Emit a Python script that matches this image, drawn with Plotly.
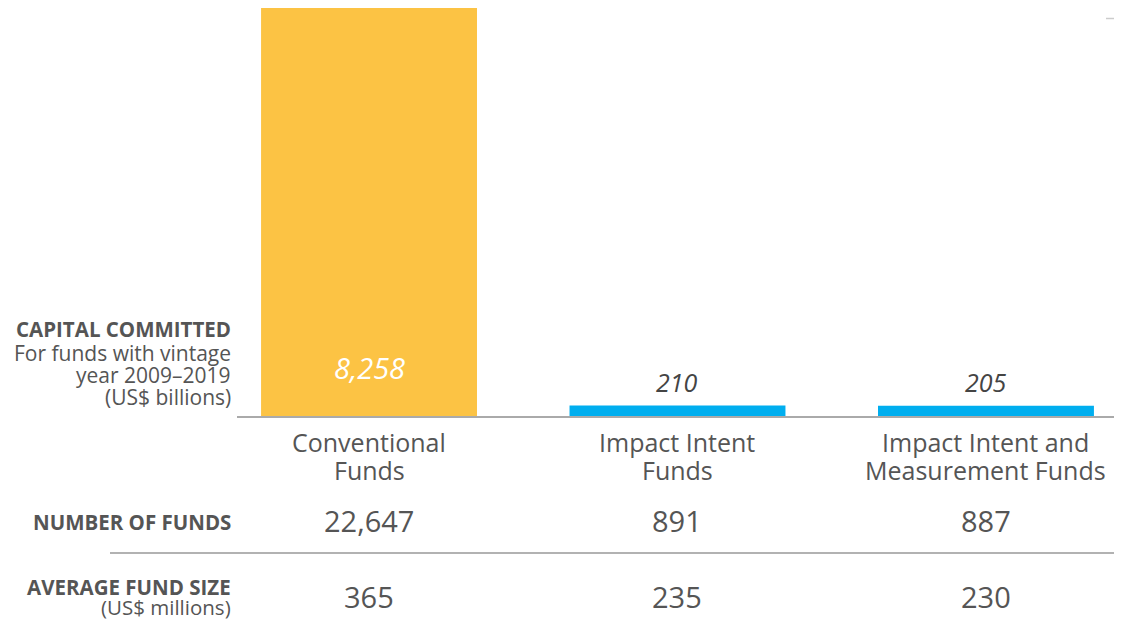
import plotly.graph_objects as go

cat_line1 = ["Conventional", "Impact Intent", "Impact Intent and"]
cat_line2 = ["Funds", "Funds", "Measurement Funds"]
capital_bn = [8258, 210, 205]
capital_labels = ["8,258", "210", "205"]
num_funds = ["22,647", "891", "887"]
avg_size = ["365", "235", "230"]
bar_colors = ["#FCC344", "#00AEEF", "#00AEEF"]

OFF = 8  # page body margin
W, H = 1122 - OFF, 622 - OFF
L, R, T, B = 237 - OFF, 0, 0, 206
PH = H - T - B
FONT = "Open Sans"
GRAY = "#555555"

def py(pix):
    return (H - B - (pix - OFF)) / PH

def px(pix):
    return ((pix - OFF) - L) / (W - L - R)

fig = go.Figure()
fig.add_trace(go.Bar(
    x=list(range(len(capital_bn))), y=capital_bn,
    marker=dict(color=bar_colors, line=dict(width=0)),
    width=0.7, hoverinfo="skip",
))

ann = []
for i, (v, lab) in enumerate(zip(capital_bn, capital_labels)):
    if i == 0:
        ann.append(dict(x=i, y=py(367), xref="x", yref="paper", text=f"<i>{lab}</i>",
                        showarrow=False, font=dict(family=FONT, size=29, color="white"),
                        yanchor="middle"))
    else:
        ann.append(dict(x=i, y=py(382), xref="x", yref="paper", text=f"<i>{lab}</i>",
                        showarrow=False, font=dict(family=FONT, size=25, color="#444444"),
                        yanchor="middle"))
for i, (a, b) in enumerate(zip(cat_line1, cat_line2)):
    ann.append(dict(x=i, y=py(442), xref="x", yref="paper", text=a, showarrow=False,
                    font=dict(family=FONT, size=25, color=GRAY), yanchor="middle"))
    ann.append(dict(x=i, y=py(470), xref="x", yref="paper", text=b, showarrow=False,
                    font=dict(family=FONT, size=25, color=GRAY), yanchor="middle"))
for i, n in enumerate(num_funds):
    ann.append(dict(x=i, y=py(520), xref="x", yref="paper", text=n, showarrow=False,
                    font=dict(family=FONT, size=29, color=GRAY), yanchor="middle"))
for i, s in enumerate(avg_size):
    ann.append(dict(x=i, y=py(596), xref="x", yref="paper", text=s, showarrow=False,
                    font=dict(family=FONT, size=29, color=GRAY), yanchor="middle"))

def left(text, ypix, size, bold=False):
    t = f"<b>{text}</b>" if bold else text
    ann.append(dict(x=px(233), y=py(ypix), xref="paper", yref="paper", text=t, showarrow=False,
                    xanchor="right", yanchor="middle", font=dict(family=FONT, size=size, color=GRAY)))

left("CAPITAL COMMITTED", 329, 20.5, True)
left("For funds with vintage", 353, 21)
left("year 2009–2019", 375, 21)
left("(US$ billions)", 397, 21)
left("NUMBER OF FUNDS", 522, 20.5, True)
left("AVERAGE FUND SIZE", 587, 20.5, True)
left("(US$ millions)", 607, 20.5)

shapes = [
    dict(type="line", xref="paper", yref="paper", x0=px(110), x1=1, y0=py(553), y1=py(553),
         line=dict(color="#999999", width=1.5)),
    dict(type="line", xref="paper", yref="paper", x0=px(1106), x1=px(1122), y0=py(18.5), y1=py(18.5),
         line=dict(color="#cccccc", width=1.5)),
]

fig.update_layout(
    width=W, height=H, margin=dict(l=L, r=R, t=T, b=B, pad=0),
    plot_bgcolor="white", paper_bgcolor="white", showlegend=False,
    annotations=ann, shapes=shapes,
    xaxis=dict(range=[-0.428, 2.441], showticklabels=False, showgrid=False, zeroline=False,
               showline=True, linecolor="#aaaaaa", linewidth=2, ticks=""),
    yaxis=dict(range=[0, 8258], visible=False, showgrid=False, zeroline=False),
)
fig.write_html("out.html")
